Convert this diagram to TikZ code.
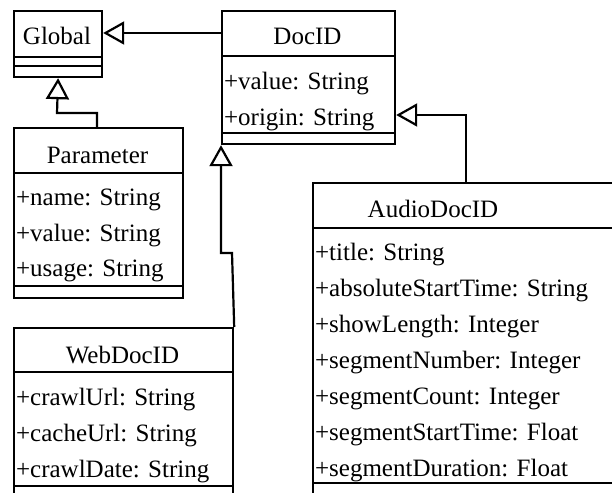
\documentclass[tikz,border=0pt]{standalone}
\usepackage{fontspec}
\setmainfont{Liberation Serif}
\usetikzlibrary{arrows.meta}
\begin{document}
\begin{tikzpicture}[x=1pt,y=-1pt,
  line width=2.2pt,
  classbox/.style={draw=black, line width=2.2pt, rectangle, inner sep=0pt, anchor=north west},
  title/.style={font=\fontsize{25}{30}\selectfont, inner sep=0pt, anchor=base},
  attr/.style={font=\fontsize{25}{30}\selectfont, inner sep=0pt, anchor=base west},
  inherit/.style={-{Triangle[open,length=21pt,width=23pt,line width=2.2pt]}, line width=2.2pt}
]
\clip (0,0) rectangle (612,492);
\fill[white] (0,0) rectangle (612,492);

% Global
\node[classbox, minimum width=88pt, minimum height=66pt] (global) at (13,10) {};
\draw (13,57) -- (101,57);
\draw (13,66) -- (101,66);
\node[title] (globalT) at (57,45) {Global};

% DocID
\node[classbox, minimum width=173pt, minimum height=133pt] (docid) at (221,10) {};
\draw (221,56) -- (394,56);
\draw (221,133) -- (394,133);
\node[title] (docidT) at (307.5,45) {DocID};
\node[attr] (docid1) at (223,90) {+value: String};
\node[attr] (docid2) at (223,125) {+origin: String};

% Parameter
\node[classbox, minimum width=169pt, minimum height=170pt] (param) at (13,127) {};
\draw (13,173) -- (182,173);
\draw (13,286) -- (182,286);
\node[title] (paramT) at (97.5,163) {Parameter};
\node[attr] (param1) at (15,205) {+name: String};
\node[attr] (param2) at (15,241) {+value: String};
\node[attr] (param3) at (15,276) {+usage: String};

% WebDocID
\node[classbox, minimum width=219pt, minimum height=180pt] (web) at (13,327) {};
\draw (13,372) -- (232,372);
\draw (13,486) -- (232,486);
\node[title] (webT) at (122.5,363) {WebDocID};
\node[attr] (web1) at (15,405) {+crawlUrl: String};
\node[attr] (web2) at (15,441) {+cacheUrl: String};
\node[attr] (web3) at (15,477) {+crawlDate: String};

% AudioDocID
\node[classbox, minimum width=320pt, minimum height=330pt] (audio) at (312,182) {};
\draw (312,228) -- (640,228);
\draw (312,483) -- (640,483);
\node[title] (audioT) at (433,217) {AudioDocID};
\node[attr] (audio1) at (314,260) {+title: String};
\node[attr] (audio2) at (314,296) {+absoluteStartTime: String};
\node[attr] (audio3) at (314,332) {+showLength: Integer};
\node[attr] (audio4) at (314,368) {+segmentNumber: Integer};
\node[attr] (audio5) at (314,404) {+segmentCount: Integer};
\node[attr] (audio6) at (314,440) {+segmentStartTime: Float};
\node[attr] (audio7) at (314,476) {+segmentDuration: Float};

% connectors
\draw[inherit] (docid.west |- 0,33) -- (global.east |- 0,33);
\draw[inherit] (param.north -| 97,0) -- (97,113) -- (57,113) -- (global.south);
\draw[inherit] (web.north east) -- (232,253) -- (221,253) -- (docid.south west);
\draw[inherit] (audio.north -| 466,0) -- (466,115) -- (docid.east |- 0,115);
\end{tikzpicture}
\end{document}
